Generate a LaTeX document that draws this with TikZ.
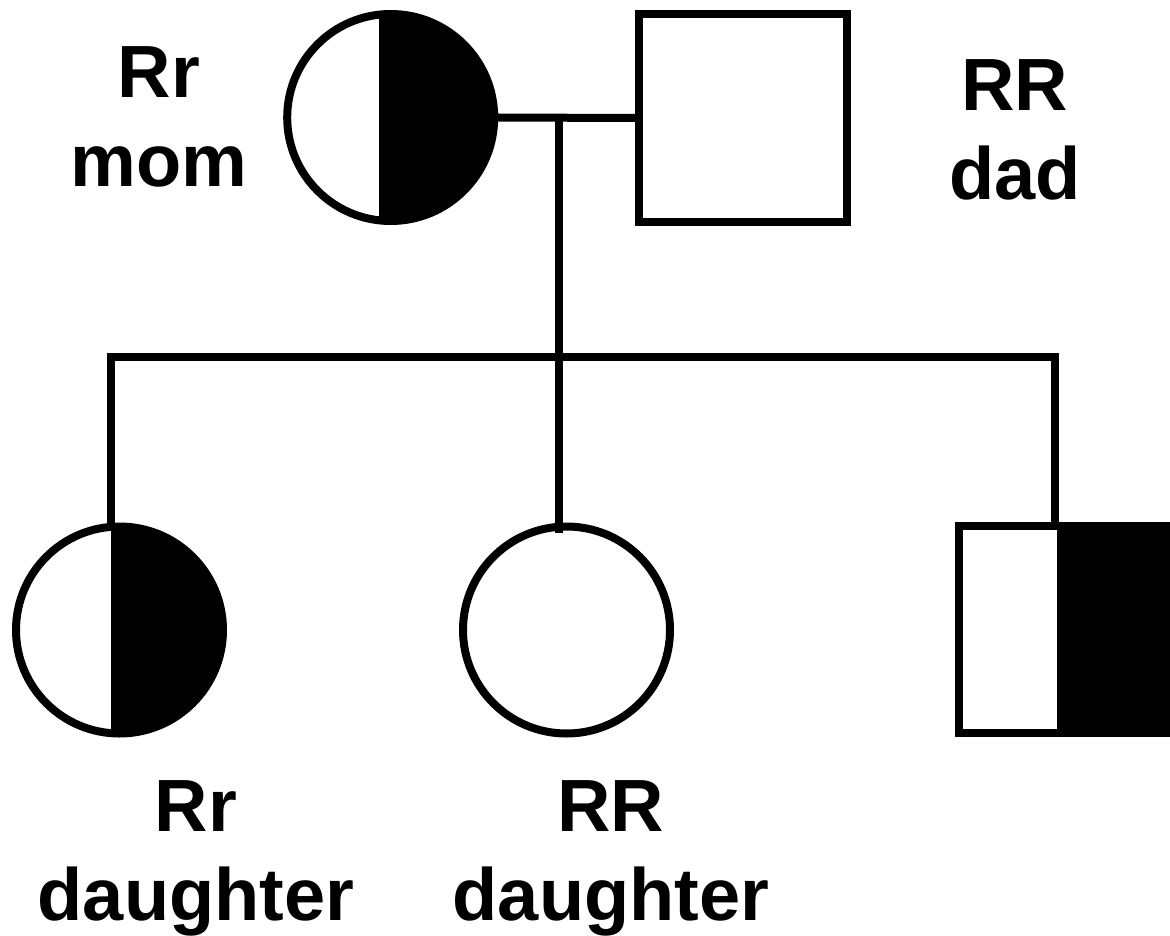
\documentclass[tikz,border=0pt]{standalone}
\usepackage{fontspec}
\setmainfont{Liberation Sans}
\usetikzlibrary{positioning}

\begin{document}
\begin{tikzpicture}[x=1pt,y=-1pt,line width=8pt,
	female/.style={circle,draw,inner sep=0pt,minimum size=207pt},
	male/.style={rectangle,draw,inner sep=0pt,minimum size=208pt},
	carrier/.style={path picture={\fill ([xshift=#1]path picture bounding box.north) rectangle (path picture bounding box.south east);}},
	label/.style={align=center,anchor=base,font=\bfseries\fontsize{74}{89}\selectfont}]
	\useasboundingbox (0,0) rectangle (1170,936);

	\node[female,carrier=-12pt] (mom) at (390.7,117.5) {};
	\node[male] (dad) at (743,118) {};
	\node[female,carrier=-8.5pt] (daughterA) at (119.5,630) {};
	\node[female] (daughterB) at (566.5,630) {};
	\node[male,carrier=-5.5pt,minimum size=207pt] (son) at (1062.5,629.5) {};

	\coordinate (couple) at (559,117.5);
	\coordinate (sib) at (559,357);
	\coordinate (sibL) at (111,357);
	\coordinate (sibR) at (1055,357);

	\draw (mom.east) -- (dad.west);
	\draw (couple) -- (sib);
	\draw (sibL |- daughterA.north) -- (sibL) -- (sibR) -- (sibR |- son.north);
	\draw (sib) -- ([yshift=-10pt]sib |- daughterB.north);

	% anchor=base sits on the last line
	\node[label] (momtext) at (159,187) {Rr\\mom};
	\node[label] (dadtext) at (1015,200) {RR\\dad};
	\node[label] (daughterAtext) at (196,920) {Rr\\daughter};
	\node[label] (daughterBtext) at (611,920) {RR\\daughter};
\end{tikzpicture}
\end{document}
